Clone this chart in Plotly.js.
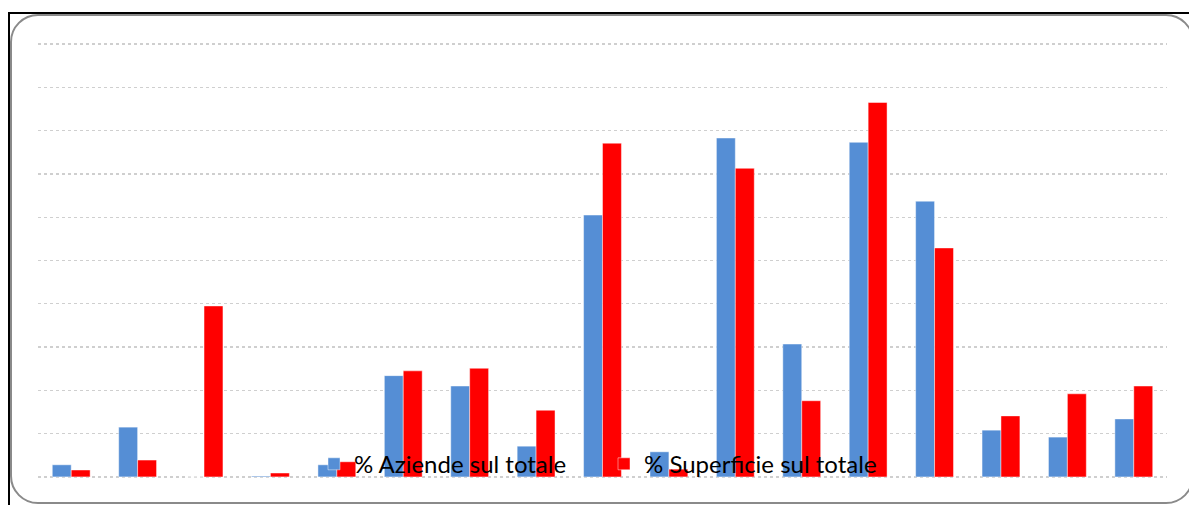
<!DOCTYPE html>
<html>
<head>
<meta charset="utf-8">
<script src="https://cdn.plot.ly/plotly-3.0.1.min.js"></script>
<style>
  html, body { margin: 0; padding: 0; width: 1189px; height: 505px; overflow: hidden; background: #fff; }
  #outer { position: absolute; left: 8px; top: 12px; width: 1200px; height: 520px; border-top: 2px solid #000; border-left: 2px solid #000; box-sizing: border-box; }
  #inner { position: absolute; left: 10px; top: 14px; width: 1184px; height: 490px; border: 2px solid #8a8a8a; border-radius: 28px; box-sizing: border-box; }
  #chart { position: absolute; left: 0; top: 0; width: 1189px; height: 505px; }
</style>
</head>
<body>
<div id="outer"></div>
<div id="inner"></div>
<div id="chart"></div>
<script>
const categories = ["1","2","3","4","5","6","7","8","9","10","11","12","13","14","15","16","17"];
const aziende =    [0.28, 1.15, 0.00, 0.02, 0.28, 2.34, 2.10, 0.71, 6.05, 0.58, 7.83, 3.07, 7.73, 6.37, 1.08, 0.92, 1.34];
const superficie = [0.16, 0.39, 3.95, 0.09, 0.35, 2.45, 2.51, 1.54, 7.71, 0.18, 7.13, 1.76, 8.65, 5.29, 1.41, 1.92, 2.10];
const seriesNames = ["% Aziende sul totale", "% Superficie sul totale"];

const traces = [
  { type: "bar", x: categories, y: aziende, name: seriesNames[0], legend: "legend",
    marker: { color: "#558ED5", line: { color: "rgba(255,255,255,0.45)", width: 1 } } },
  { type: "bar", x: categories, y: superficie, name: seriesNames[1], legend: "legend2",
    marker: { color: "#FF0000", line: { color: "rgba(255,255,255,0.45)", width: 1 } } }
];

const legendFont = { family: "Lato, 'Liberation Sans', sans-serif", size: 24, color: "#000" };
const layout = {
  width: 1189, height: 505,
  margin: { l: 38, r: 22, t: 43, b: 27, pad: 0 },
  paper_bgcolor: "rgba(0,0,0,0)",
  plot_bgcolor: "rgba(0,0,0,0)",
  barmode: "group",
  bargap: 0.43,
  bargroupgap: 0,
  showlegend: true,
  xaxis: { type: "category", showticklabels: false, showgrid: false, zeroline: false, showline: false, ticks: "" },
  yaxis: { range: [-0.025, 10.025], dtick: 1, tick0: 0, showticklabels: false, ticks: "", zeroline: false, showline: false,
           showgrid: true, gridcolor: "#cfcfcf", griddash: "dot", gridwidth: 1.4 },
  legend: { orientation: "h", x: (314 - 38) / 1129, xanchor: "left", y: -0.02, yanchor: "bottom",
            bgcolor: "rgba(0,0,0,0)", font: legendFont },
  legend2: { orientation: "h", x: (604 - 38) / 1129, xanchor: "left", y: -0.02, yanchor: "bottom",
             bgcolor: "rgba(0,0,0,0)", font: legendFont }
};

Plotly.newPlot("chart", traces, layout, { displayModeBar: false, staticPlot: true });
</script>
</body>
</html>
